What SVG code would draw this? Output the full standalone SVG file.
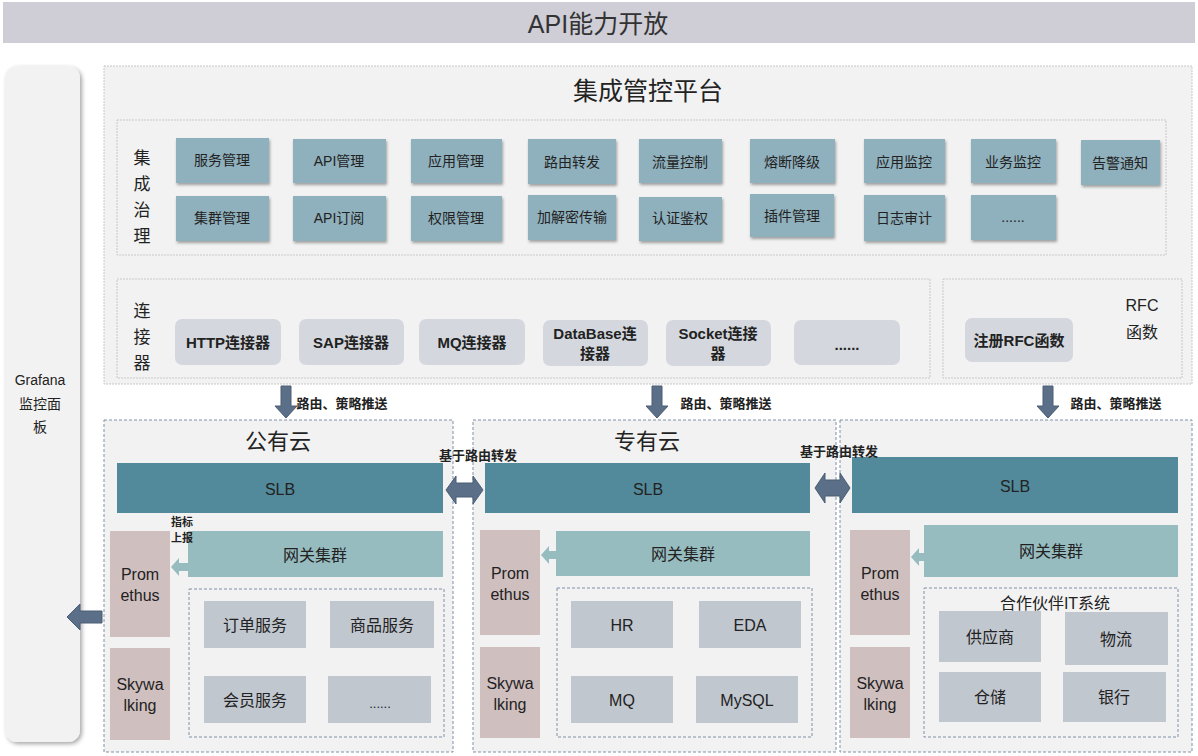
<svg xmlns="http://www.w3.org/2000/svg" width="1198" height="756" viewBox="0 0 1198 756">
<defs>
<filter id="sh" x="-10%" y="-10%" width="130%" height="140%">
<feDropShadow dx="1" dy="2" stdDeviation="1.5" flood-color="#000" flood-opacity="0.35"/>
</filter>
<filter id="sh2" x="-20%" y="-5%" width="140%" height="110%">
<feDropShadow dx="2" dy="2" stdDeviation="2" flood-color="#000" flood-opacity="0.35"/>
</filter>
<style>
text{font-family:"Liberation Sans","Noto Sans CJK SC",sans-serif;fill:#222;text-anchor:middle;dominant-baseline:central}
.gov{fill:#8fb0bd;filter:url(#sh)}
.gt{font-size:14px}
.con{fill:#d4d8de}
.ct{font-size:15px;font-weight:bold}
.panel{fill:#f2f2f2;stroke:#c8c8c8;stroke-dasharray:2 1}
.cloud{fill:#f2f2f2;stroke:#8090a8;stroke-width:1;stroke-dasharray:3 2}
.inner{fill:none;stroke:#8090a8;stroke-width:1;stroke-dasharray:3 2}
.slb{fill:#528a9c}
.gw{fill:#97bcc0}
.pr{fill:#d0bfbf}
.svc{fill:#c1c7cf}
.st{font-size:16px}
.arr{fill:#5b7088;stroke:#4a5d74;stroke-width:1}
.lbl{font-size:13px;font-weight:bold}
.big{font-size:22px}
</style>
</defs>

<g id="title">
<rect x="3" y="2" width="1192" height="41" fill="#cfcdd6"/>
<text x="598" y="24" style="font-size:25px;fill:#333">API能力开放</text>
</g>

<g id="grafana">
<rect x="5" y="66" width="75" height="676" rx="12" fill="#f2f2f2" filter="url(#sh2)"/>
<text x="40" y="380" style="font-size:14px">Grafana</text>
<text x="40" y="404" style="font-size:14px">监控面</text>
<text x="40" y="427" style="font-size:14px">板</text>
</g>

<g id="platform">
<rect x="104" y="66" width="1088" height="318" class="panel"/>
<text x="648" y="91" style="font-size:25px">集成管控平台</text>
</g>

<g id="governance">
<rect x="117" y="120" width="1049" height="135" class="panel"/>
<text x="142" y="158" style="font-size:17px">集</text>
<text x="142" y="184" style="font-size:17px">成</text>
<text x="142" y="210" style="font-size:17px">治</text>
<text x="142" y="236" style="font-size:17px">理</text>
<g id="g-fwgl"><rect class="gov" x="176" y="138" width="93" height="45"/><text class="gt" x="222" y="160">服务管理</text></g>
<g id="g-apigl"><rect class="gov" x="293" y="139" width="93" height="44"/><text class="gt" x="339" y="161">API管理</text></g>
<g id="g-yygl"><rect class="gov" x="411" y="139" width="91" height="44"/><text class="gt" x="456" y="161">应用管理</text></g>
<g id="g-lyzf"><rect class="gov" x="528" y="139" width="88" height="45"/><text class="gt" x="572" y="162">路由转发</text></g>
<g id="g-llkz"><rect class="gov" x="639" y="139" width="83" height="44"/><text class="gt" x="680" y="162">流量控制</text></g>
<g id="g-rdjj"><rect class="gov" x="750" y="139" width="85" height="44"/><text class="gt" x="792" y="162">熔断降级</text></g>
<g id="g-yyjk"><rect class="gov" x="864" y="139" width="81" height="44"/><text class="gt" x="904" y="162">应用监控</text></g>
<g id="g-ywjk"><rect class="gov" x="971" y="139" width="85" height="44"/><text class="gt" x="1013" y="162">业务监控</text></g>
<g id="g-gjtz"><rect class="gov" x="1081" y="140" width="79" height="45"/><text class="gt" x="1120" y="163">告警通知</text></g>
<g id="g-jqgl"><rect class="gov" x="176" y="196" width="93" height="45"/><text class="gt" x="222" y="218">集群管理</text></g>
<g id="g-apidy"><rect class="gov" x="293" y="196" width="93" height="45"/><text class="gt" x="339" y="218">API订阅</text></g>
<g id="g-qxgl"><rect class="gov" x="411" y="196" width="91" height="45"/><text class="gt" x="456" y="218">权限管理</text></g>
<g id="g-jjm"><rect class="gov" x="528" y="195" width="88" height="45"/><text class="gt" x="572" y="217">加解密传输</text></g>
<g id="g-rzjq"><rect class="gov" x="639" y="197" width="83" height="44"/><text class="gt" x="680" y="218">认证鉴权</text></g>
<g id="g-cjgl"><rect class="gov" x="750" y="194" width="84" height="43"/><text class="gt" x="792" y="216">插件管理</text></g>
<g id="g-rzsj"><rect class="gov" x="864" y="195" width="81" height="46"/><text class="gt" x="904" y="218">日志审计</text></g>
<g id="g-more1"><rect class="gov" x="971" y="195" width="85" height="45"/><text class="gt" x="1013" y="217">......</text></g>
</g>

<g id="connectors">
<rect x="117" y="279" width="813" height="99" class="panel"/>
<text x="142" y="311" style="font-size:17px">连</text>
<text x="142" y="337" style="font-size:17px">接</text>
<text x="142" y="363" style="font-size:17px">器</text>
<g id="c-http"><rect class="con" x="175" y="319" width="106" height="46" rx="7"/><text class="ct" x="228" y="342">HTTP连接器</text></g>
<g id="c-sap"><rect class="con" x="299" y="319" width="105" height="46" rx="7"/><text class="ct" x="351" y="342">SAP连接器</text></g>
<g id="c-mq"><rect class="con" x="419" y="319" width="106" height="46" rx="7"/><text class="ct" x="472" y="342">MQ连接器</text></g>
<g id="c-db"><rect class="con" x="543" y="320" width="105" height="46" rx="7"/><text class="ct" x="595" y="333">DataBase连</text><text class="ct" x="595" y="353">接器</text></g>
<g id="c-sock"><rect class="con" x="666" y="320" width="105" height="46" rx="7"/><text class="ct" x="718" y="333">Socket连接</text><text class="ct" x="718" y="353">器</text></g>
<g id="c-more"><rect class="con" x="794" y="320" width="106" height="45" rx="7"/><text class="ct" x="847" y="344">......</text></g>
</g>

<g id="rfc">
<rect x="943" y="279" width="239" height="99" class="panel"/>
<text x="1142" y="305" style="font-size:16px">RFC</text>
<text x="1142" y="332" style="font-size:16px">函数</text>
<g id="c-rfc"><rect class="con" x="965" y="318" width="108" height="44" rx="7"/><text class="ct" x="1019" y="340">注册RFC函数</text></g>
</g>

<g id="public-cloud">
<rect class="cloud" x="104" y="420" width="349" height="332"/>
<text class="big" x="278" y="441">公有云</text>
<rect class="slb" x="117" y="463" width="326" height="50"/><text class="st" x="280" y="489">SLB</text>
<rect class="gw" x="188" y="531" width="255" height="46"/><text class="st" x="315" y="555">网关集群</text>
<rect class="pr" x="110" y="531" width="60" height="106"/><text class="st" x="140" y="574">Prom</text><text class="st" x="140" y="595">ethus</text>
<rect class="pr" x="110" y="648" width="60" height="92"/><text class="st" x="140" y="684">Skywa</text><text class="st" x="140" y="705">lking</text>
<rect class="inner" x="189" y="589" width="255" height="148"/>
<rect class="svc" x="204" y="601" width="102" height="47"/><text class="st" x="255" y="625">订单服务</text>
<rect class="svc" x="330" y="601" width="104" height="47"/><text class="st" x="382" y="625">商品服务</text>
<rect class="svc" x="204" y="676" width="102" height="47"/><text class="st" x="255" y="700">会员服务</text>
<rect class="svc" x="328" y="676" width="103" height="47"/><text class="st" x="380" y="703" style="font-size:13px">......</text>
</g>

<g id="private-cloud">
<rect class="cloud" x="473" y="420" width="363" height="332"/>
<text class="big" x="647" y="441">专有云</text>
<rect class="slb" x="485" y="463" width="325" height="50"/><text class="st" x="648" y="489">SLB</text>
<rect class="gw" x="556" y="531" width="254" height="45"/><text class="st" x="683" y="554">网关集群</text>
<rect class="pr" x="480" y="530" width="60" height="105"/><text class="st" x="510" y="573">Prom</text><text class="st" x="510" y="594">ethus</text>
<rect class="pr" x="480" y="647" width="60" height="91"/><text class="st" x="510" y="683">Skywa</text><text class="st" x="510" y="704">lking</text>
<rect class="inner" x="557" y="588" width="255" height="149"/>
<rect class="svc" x="571" y="601" width="102" height="47"/><text class="st" x="622" y="625">HR</text>
<rect class="svc" x="699" y="601" width="102" height="47"/><text class="st" x="750" y="625">EDA</text>
<rect class="svc" x="571" y="676" width="102" height="47"/><text class="st" x="622" y="700">MQ</text>
<rect class="svc" x="696" y="676" width="102" height="47"/><text class="st" x="747" y="700">MySQL</text>
</g>

<g id="partner-cloud">
<rect class="cloud" x="840" y="420" width="352" height="332"/>
<rect class="slb" x="852" y="457" width="326" height="56"/><text class="st" x="1015" y="486">SLB</text>
<rect class="gw" x="924" y="525" width="254" height="52"/><text class="st" x="1051" y="551">网关集群</text>
<rect class="pr" x="850" y="530" width="60" height="105"/><text class="st" x="880" y="573">Prom</text><text class="st" x="880" y="594">ethus</text>
<rect class="pr" x="850" y="647" width="60" height="91"/><text class="st" x="880" y="683">Skywa</text><text class="st" x="880" y="704">lking</text>
<rect class="inner" x="924" y="588" width="254" height="149"/>
<text class="st" x="1055" y="603">合作伙伴IT系统</text>
<rect class="svc" x="939" y="611" width="102" height="51"/><text class="st" x="990" y="637">供应商</text>
<rect class="svc" x="1065" y="612" width="103" height="53"/><text class="st" x="1116" y="639">物流</text>
<rect class="svc" x="939" y="672" width="102" height="50"/><text class="st" x="990" y="697">仓储</text>
<rect class="svc" x="1063" y="672" width="103" height="50"/><text class="st" x="1114" y="697">银行</text>
</g>

<g id="connectors-arrows">
<path class="arr" d="M281,386 h10 v20 h6 l-11,12 l-11,-12 h6 z"/>
<text class="lbl" x="342" y="403">路由、策略推送</text>
<path class="arr" d="M652,386 h10 v20 h6 l-11,12 l-11,-12 h6 z"/>
<text class="lbl" x="726" y="403">路由、策略推送</text>
<path class="arr" d="M1043,386 h10 v20 h6 l-11,12 l-11,-12 h6 z"/>
<text class="lbl" x="1116" y="403">路由、策略推送</text>

<text class="lbl" x="478" y="455">基于路由转发</text>
<path class="arr" d="M446,490 l10,-14 v7 h17 v-7 l10,14 l-10,14 v-7 h-17 v7 z"/>
<text class="lbl" x="839" y="451">基于路由转发</text>
<path class="arr" d="M815,488 l10,-15 v7 h15 v-7 l10,15 l-10,15 v-7 h-15 v7 z"/>

<path d="M171,567 l8,-9 v5 h9 v8 h-9 v5 z" fill="#97bcc0"/>
<text x="182" y="522" style="font-size:11px;font-weight:bold">指标</text>
<text x="182" y="538" style="font-size:11px;font-weight:bold">上报</text>
<path d="M541,555 l8,-9 v5 h7 v8 h-7 v5 z" fill="#97bcc0"/>
<path d="M911,557 l8,-9 v5 h5 v8 h-5 v5 z" fill="#97bcc0"/>

<path class="arr" d="M67,617 l13,-13 v7 h22 v12 h-22 v7 z"/>
</g>
</svg>
